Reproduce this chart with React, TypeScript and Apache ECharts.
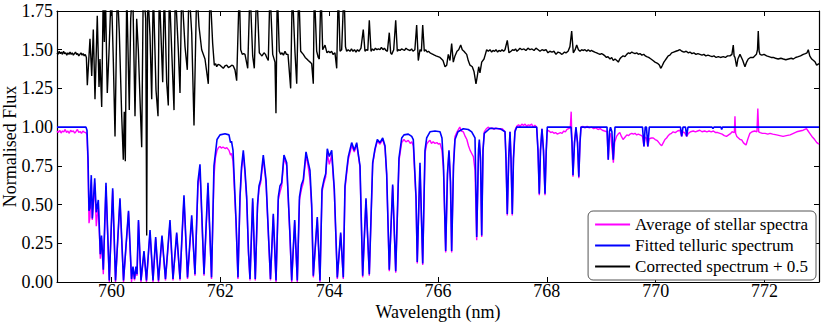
import React, { useEffect, useRef } from "react";
import * as echarts from "echarts";

const FONT = "Liberation Serif";

const seriesNames = ["Average of stellar spectra", "Fitted telluric spectrum", "Corrected spectrum + 0.5"];
const seriesColors = ["#ff00ff", "#0000ff", "#000000"];
const xMin = 759;
const xMax = 773;
const yMin = 0;
const yMax = 1.75;
const yStep = 0.25;

const stellarAverage: [number, number][] = [
[759.000,0.975],[759.025,0.965],[759.050,0.980],[759.075,0.962],[759.100,0.975],[759.125,0.970],[759.150,0.985],[759.175,0.966],[759.200,0.975],[759.225,0.960],[759.250,0.980],[759.275,0.970],[759.300,0.976],[759.325,0.961],[759.350,0.972],[759.375,0.985],[759.400,0.965],[759.425,0.972],[759.450,0.960],[759.475,0.975],[759.500,0.968],[759.530,0.965],
[759.551,0.95],[759.570,0.75],[759.588,0.38],[759.606,0.42],[759.630,0.66],[759.649,0.40],[759.693,0.64],[759.722,0.36],[759.759,0.50],[759.796,0.15],[759.818,0.28],[759.851,0.05],[759.900,0.62],[759.961,0.0],[760.023,0.59],[760.075,0.0],[760.157,0.53],[760.222,0.0],[760.314,0.45],[760.369,0.0],[760.396,0.09],[760.424,0.01],[760.451,0.09],[760.470,0.04],[760.497,0.39],[760.543,0.0],[760.598,0.19],[760.644,0.0],[760.709,0.32],[760.764,0.0],[760.813,0.28],[760.865,0.0],[760.929,0.29],[760.993,0.01],[761.076,0.38],[761.131,0.01],[761.199,0.31],[761.260,0.01],[761.297,0.29],[761.333,0.54],[761.398,0.02],[761.475,0.41],[761.535,0.04],[761.590,0.62],[761.627,0.72],[761.701,0.04],[761.774,0.62],[761.839,0.02],[761.884,0.68],[761.910,0.80],[761.940,0.85],[761.970,0.87],[761.995,0.875],[762.020,0.865],[762.050,0.872],[762.087,0.862],[762.120,0.868],[762.160,0.85],[762.188,0.82],[762.206,0.83],[762.234,0.78],[762.289,0.38],[762.325,0.02],[762.362,0.53],[762.390,0.72],[762.423,0.83],[762.454,0.70],[762.485,0.53],[762.518,0.18],[762.546,0.01],[762.595,0.52],[762.643,0.01],[762.684,0.48],[762.711,0.60],[762.742,0.64],[762.790,0.80],[762.840,0.64],[762.886,0.28],[762.922,0.01],[762.974,0.43],[763.024,0.0],[763.066,0.53],[763.097,0.58],[763.128,0.62],[763.170,0.80],[763.220,0.75],[763.281,0.28],[763.312,0.0],[763.367,0.39],[763.415,0.0],[763.455,0.53],[763.492,0.60],[763.525,0.64],[763.575,0.82],[763.617,0.74],[763.648,0.66],[763.679,0.48],[763.709,0.03],[763.782,0.41],[763.832,0.0],[763.869,0.58],[763.905,0.64],[763.937,0.68],[763.966,0.83],[764.003,0.76],[764.047,0.82],[764.095,0.58],[764.150,0.02],[764.212,0.31],[764.260,0.02],[764.291,0.60],[764.322,0.70],[764.352,0.79],[764.414,0.88],[764.462,0.84],[764.506,0.89],[764.567,0.74],[764.616,0.03],[764.677,0.53],[764.738,0.04],[764.800,0.76],[764.842,0.85],[764.885,0.91],[764.934,0.89],[764.984,0.92],[765.026,0.87],[765.057,0.69],[765.105,0.07],[765.167,0.62],[765.223,0.06],[765.283,0.78],[765.333,0.90],[765.375,0.92],[765.410,0.905],[765.454,0.915],[765.490,0.895],[765.517,0.905],[765.546,0.88],[765.596,0.53],[765.619,0.12],[765.669,0.75],[765.719,0.11],[765.761,0.83],[765.792,0.89],[765.820,0.905],[765.853,0.915],[765.880,0.895],[765.910,0.905],[765.945,0.895],[765.980,0.90],[766.010,0.89],[766.037,0.895],[766.073,0.85],[766.101,0.72],[766.141,0.19],[766.174,0.69],[766.202,0.84],[766.229,0.64],[766.251,0.19],[766.285,0.76],[766.312,0.94],[766.350,0.97],[766.400,1.0],[766.430,0.975],[766.465,0.97],[766.500,0.94],[766.530,0.92],[766.560,0.88],[766.590,0.85],[766.620,0.83],[766.650,0.81],[766.680,0.72],[766.711,0.27],[766.744,0.82],[766.759,0.90],[766.781,0.78],[766.803,0.29],[766.827,0.85],[766.850,0.97],[766.890,0.99],[766.920,1.0],[766.955,0.99],[766.990,0.995],[767.030,0.985],[767.060,0.995],[767.100,0.99],[767.139,0.985],[767.180,0.99],[767.231,0.97],[767.249,0.80],[767.273,0.43],[767.299,0.80],[767.323,0.97],[767.341,0.80],[767.365,0.43],[767.387,0.80],[767.414,0.98],[767.446,1.005],[767.480,1.015],[767.510,1.005],[767.540,1.02],[767.570,1.01],[767.600,1.02],[767.630,1.005],[767.660,1.015],[767.690,1.01],[767.720,1.02],[767.750,1.0],[767.780,1.012],[767.813,1.0],[767.837,0.85],[767.861,0.56],[767.883,0.85],[767.910,0.99],[767.938,0.85],[767.966,0.56],[767.989,0.85],[768.008,0.98],[768.040,0.975],[768.070,0.965],[768.100,0.97],[768.130,0.96],[768.160,0.965],[768.190,0.955],[768.220,0.96],[768.250,0.965],[768.280,0.96],[768.310,0.975],[768.340,0.97],[768.370,0.985],[768.400,0.99],[768.430,0.995],[768.447,1.10],[768.455,0.99],[768.462,0.90],[768.480,0.68],[768.508,0.90],[768.535,0.99],[768.563,0.90],[768.587,0.67],[768.609,0.90],[768.627,1.0],[768.660,1.005],[768.700,0.995],[768.740,1.005],[768.780,0.995],[768.820,1.0],[768.860,0.99],[768.900,0.995],[768.940,0.985],[768.980,0.99],[769.020,0.98],[769.060,0.975],[769.105,0.97],[769.128,0.79],[769.150,0.95],[769.169,0.96],[769.198,0.86],[769.222,0.77],[769.245,0.90],[769.280,0.94],[769.310,0.955],[769.340,0.965],[769.370,0.94],[769.400,0.92],[769.435,0.935],[769.470,0.95],[769.500,0.945],[769.530,0.955],[769.560,0.96],[769.590,0.955],[769.620,0.96],[769.650,0.95],[769.680,0.955],[769.710,0.95],[769.740,0.945],[769.757,0.94],[769.784,0.875],[769.807,0.935],[769.830,0.93],[769.855,0.875],[769.882,0.925],[769.920,0.93],[769.955,0.93],[769.990,0.92],[770.020,0.915],[770.047,0.905],[770.080,0.89],[770.110,0.88],[770.140,0.90],[770.170,0.92],[770.200,0.93],[770.230,0.945],[770.260,0.955],[770.290,0.96],[770.320,0.97],[770.360,0.965],[770.400,0.975],[770.445,0.98],[770.477,0.94],[770.501,0.97],[770.530,0.965],[770.569,0.94],[770.600,0.96],[770.640,0.97],[770.690,0.975],[770.730,0.97],[770.770,0.975],[770.810,0.98],[770.850,0.97],[770.900,0.975],[770.940,0.97],[770.980,0.975],[771.020,0.97],[771.060,0.975],[771.100,0.965],[771.140,0.965],[771.180,0.96],[771.220,0.955],[771.260,0.945],[771.300,0.94],[771.340,0.95],[771.380,0.96],[771.400,0.97],[771.445,0.965],[771.456,1.07],[771.468,0.96],[771.490,0.94],[771.520,0.93],[771.550,0.92],[771.580,0.918],[771.610,0.90],[771.640,0.89],[771.660,0.885],[771.690,0.92],[771.730,0.96],[771.770,0.97],[771.820,0.975],[771.860,0.97],[771.876,1.12],[771.892,0.97],[771.920,0.965],[771.960,0.96],[772.010,0.96],[772.060,0.955],[772.100,0.96],[772.150,0.955],[772.220,0.95],[772.280,0.945],[772.340,0.94],[772.400,0.945],[772.470,0.95],[772.530,0.96],[772.590,0.97],[772.650,0.975],[772.710,0.98],[772.770,0.99],[772.800,0.975],[772.830,0.96],[772.870,0.94],[772.920,0.92],[772.960,0.90],[773.000,0.89]
];

const telluricFit: [number, number][] = [
[759.000,1.0],[759.533,1.0],[759.551,0.98],[759.570,0.80],[759.588,0.46],[759.606,0.48],[759.630,0.69],[759.649,0.41],[759.693,0.67],[759.722,0.45],[759.759,0.53],[759.796,0.18],[759.818,0.30],[759.851,0.08],[759.900,0.64],[759.961,0.01],[760.023,0.605],[760.075,0.01],[760.157,0.54],[760.222,0.01],[760.314,0.46],[760.369,0.02],[760.396,0.10],[760.424,0.02],[760.451,0.10],[760.470,0.05],[760.497,0.40],[760.543,0.01],[760.598,0.20],[760.644,0.01],[760.709,0.335],[760.764,0.01],[760.813,0.29],[760.865,0.01],[760.929,0.30],[760.993,0.02],[761.076,0.40],[761.131,0.02],[761.199,0.32],[761.260,0.02],[761.297,0.30],[761.333,0.56],[761.398,0.03],[761.475,0.43],[761.535,0.05],[761.590,0.65],[761.627,0.76],[761.701,0.05],[761.774,0.64],[761.839,0.03],[761.884,0.75],[761.940,0.92],[761.995,0.95],[762.087,0.957],[762.160,0.95],[762.188,0.90],[762.206,0.91],[762.234,0.85],[762.289,0.40],[762.325,0.03],[762.362,0.55],[762.390,0.74],[762.423,0.85],[762.454,0.72],[762.485,0.55],[762.518,0.20],[762.546,0.02],[762.595,0.54],[762.643,0.02],[762.684,0.50],[762.711,0.62],[762.742,0.66],[762.790,0.82],[762.840,0.66],[762.886,0.30],[762.922,0.02],[762.974,0.44],[763.024,0.01],[763.066,0.55],[763.097,0.62],[763.128,0.64],[763.170,0.82],[763.220,0.77],[763.281,0.30],[763.312,0.01],[763.367,0.40],[763.415,0.01],[763.455,0.55],[763.492,0.63],[763.525,0.66],[763.575,0.84],[763.617,0.77],[763.648,0.72],[763.679,0.50],[763.709,0.04],[763.782,0.42],[763.832,0.01],[763.869,0.60],[763.905,0.66],[763.937,0.70],[763.966,0.86],[764.003,0.81],[764.047,0.85],[764.095,0.60],[764.150,0.03],[764.212,0.32],[764.260,0.03],[764.291,0.62],[764.322,0.72],[764.352,0.81],[764.414,0.90],[764.462,0.85],[764.506,0.90],[764.567,0.75],[764.616,0.04],[764.677,0.54],[764.738,0.05],[764.800,0.77],[764.842,0.86],[764.885,0.92],[764.934,0.90],[764.984,0.93],[765.026,0.88],[765.057,0.70],[765.105,0.08],[765.167,0.63],[765.223,0.07],[765.283,0.80],[765.333,0.93],[765.375,0.95],[765.454,0.955],[765.517,0.94],[765.546,0.92],[765.596,0.55],[765.619,0.13],[765.669,0.77],[765.719,0.12],[765.761,0.85],[765.792,0.93],[765.853,0.97],[765.945,0.975],[766.037,0.97],[766.073,0.93],[766.101,0.75],[766.141,0.20],[766.174,0.70],[766.202,0.85],[766.229,0.65],[766.251,0.20],[766.285,0.75],[766.312,0.92],[766.367,0.97],[766.465,0.99],[766.556,0.985],[766.619,0.97],[766.680,0.93],[766.711,0.29],[766.744,0.85],[766.759,0.92],[766.781,0.80],[766.803,0.30],[766.827,0.85],[766.850,0.96],[766.955,0.993],[767.139,0.99],[767.231,0.97],[767.249,0.80],[767.273,0.44],[767.299,0.80],[767.323,0.97],[767.341,0.80],[767.365,0.44],[767.387,0.80],[767.414,0.97],[767.446,1.0],[767.813,1.0],[767.837,0.85],[767.861,0.57],[767.883,0.85],[767.910,0.99],[767.938,0.85],[767.966,0.57],[767.989,0.85],[768.008,1.0],[768.443,1.0],[768.462,0.90],[768.480,0.69],[768.508,0.90],[768.535,1.0],[768.563,0.90],[768.587,0.68],[768.609,0.90],[768.627,1.0],[769.105,1.0],[769.128,0.79],[769.150,0.97],[769.169,1.0],[769.195,0.97],[769.220,0.79],[769.252,1.0],[769.757,1.0],[769.784,0.875],[769.807,1.0],[769.830,1.0],[769.855,0.875],[769.882,1.0],[770.455,1.0],[770.477,0.94],[770.501,1.0],[770.547,1.0],[770.569,0.94],[770.593,1.0],[771.034,1.0],[771.052,0.99],[771.070,1.0],[771.199,1.0],[771.212,0.985],[771.226,1.0],[773.000,1.0]
];

const correctedSpectrum: [number, number][] = [
[759.000,1.48],[759.020,1.47],[759.040,1.49],[759.060,1.475],[759.080,1.485],[759.100,1.47],[759.120,1.49],[759.140,1.475],[759.160,1.48],[759.180,1.465],[759.200,1.48],[759.220,1.47],[759.240,1.485],[759.260,1.47],[759.280,1.48],[759.300,1.465],[759.320,1.475],[759.340,1.485],[759.360,1.47],[759.380,1.475],[759.400,1.46],[759.420,1.47],[759.440,1.48],[759.460,1.465],[759.480,1.475],[759.500,1.46],[759.520,1.47],[759.540,1.45],
[759.557,1.27],[759.606,1.57],[759.638,1.33],[759.667,1.63],[759.698,1.18],[759.740,1.72],[759.772,1.26],[759.790,1.44],[759.821,1.13],[759.851,1.9],[759.870,1.55],[759.887,1.9],[759.924,1.22],[759.955,1.48],[759.998,1.9],[760.034,1.44],[760.066,0.94],[760.108,1.9],[760.145,1.61],[760.189,1.07],[760.218,0.79],[760.236,1.1],[760.255,0.78],[760.281,1.9],[760.328,1.11],[760.354,1.70],[760.391,1.9],[760.433,1.07],[760.464,1.70],[760.494,1.50],[760.525,1.18],[760.556,0.87],[760.585,1.9],[760.630,1.70],[760.648,0.30],[760.666,1.9],[760.709,1.59],[760.740,1.18],[760.769,1.9],[760.819,1.24],[760.856,1.07],[760.879,1.9],[760.942,1.29],[760.971,1.9],[761.015,1.29],[761.045,1.14],[761.063,1.9],[761.107,1.50],[761.150,1.11],[761.173,1.9],[761.229,1.50],[761.260,1.22],[761.291,1.9],[761.352,1.52],[761.394,1.37],[761.425,1.9],[761.475,1.61],[761.517,1.01],[761.567,1.9],[761.609,1.65],[761.658,1.50],[761.719,1.44],[761.780,1.28],[761.811,1.9],[761.860,1.54],[761.890,1.40],[761.915,1.41],[761.934,1.39],[761.960,1.405],[761.995,1.40],[762.025,1.39],[762.055,1.38],[762.085,1.395],[762.118,1.40],[762.150,1.385],[762.178,1.39],[762.210,1.40],[762.239,1.395],[762.270,1.37],[762.301,1.30],[762.349,1.9],[762.375,1.50],[762.404,1.47],[762.430,1.475],[762.454,1.47],[762.504,1.38],[762.546,1.9],[762.595,1.46],[762.625,1.38],[762.669,1.9],[762.717,1.48],[762.740,1.47],[762.766,1.46],[762.803,1.48],[762.830,1.47],[762.853,1.45],[762.882,1.43],[762.913,1.9],[762.963,1.47],[763.005,1.42],[763.023,1.09],[763.047,1.9],[763.084,1.49],[763.110,1.47],[763.134,1.48],[763.160,1.465],[763.189,1.49],[763.215,1.47],[763.244,1.47],[763.293,1.25],[763.323,1.9],[763.373,1.48],[763.404,1.28],[763.441,1.9],[763.477,1.49],[763.500,1.48],[763.525,1.47],[763.560,1.45],[763.590,1.44],[763.617,1.43],[763.650,1.42],[763.679,1.41],[763.709,1.28],[763.727,1.9],[763.771,1.49],[763.800,1.45],[763.819,1.44],[763.850,1.9],[763.881,1.50],[763.924,1.53],[763.960,1.48],[763.990,1.49],[764.016,1.48],[764.045,1.49],[764.071,1.47],[764.107,1.48],[764.139,1.38],[764.168,1.9],[764.200,1.49],[764.230,1.50],[764.273,1.9],[764.300,1.52],[764.322,1.49],[764.350,1.50],[764.383,1.49],[764.410,1.505],[764.438,1.49],[764.465,1.50],[764.493,1.485],[764.520,1.50],[764.548,1.49],[764.585,1.51],[764.627,1.63],[764.658,1.49],[764.680,1.50],[764.710,1.495],[764.738,1.69],[764.769,1.49],[764.795,1.505],[764.824,1.495],[764.850,1.51],[764.879,1.50],[764.905,1.505],[764.934,1.50],[764.960,1.515],[764.989,1.50],[765.015,1.51],[765.044,1.495],[765.070,1.49],[765.105,1.61],[765.130,1.48],[765.149,1.47],[765.186,1.50],[765.223,1.69],[765.252,1.49],[765.275,1.50],[765.302,1.495],[765.330,1.505],[765.357,1.50],[765.385,1.495],[765.412,1.51],[765.445,1.50],[765.485,1.495],[765.515,1.505],[765.540,1.49],[765.575,1.50],[765.608,1.66],[765.638,1.43],[765.669,1.50],[765.695,1.49],[765.719,1.66],[765.748,1.49],[765.775,1.50],[765.798,1.485],[765.825,1.49],[765.853,1.48],[765.880,1.475],[765.908,1.47],[765.935,1.465],[765.963,1.46],[766.000,1.455],[766.037,1.45],[766.065,1.44],[766.092,1.43],[766.129,1.39],[766.160,1.40],[766.189,1.47],[766.220,1.43],[766.251,1.54],[766.281,1.42],[766.312,1.46],[766.349,1.49],[766.380,1.50],[766.417,1.53],[766.446,1.50],[766.477,1.49],[766.500,1.48],[766.527,1.47],[766.556,1.43],[766.588,1.40],[766.630,1.39],[766.661,1.36],[766.698,1.28],[766.722,1.33],[766.748,1.39],[766.771,1.35],[766.803,1.42],[766.845,1.44],[766.870,1.47],[766.894,1.50],[766.925,1.49],[766.955,1.50],[766.985,1.485],[767.010,1.495],[767.040,1.49],[767.065,1.50],[767.095,1.485],[767.120,1.495],[767.150,1.49],[767.176,1.50],[767.205,1.49],[767.231,1.50],[767.273,1.56],[767.304,1.48],[767.341,1.49],[767.370,1.50],[767.396,1.495],[767.425,1.505],[767.451,1.49],[767.480,1.50],[767.506,1.51],[767.540,1.50],[767.580,1.505],[767.615,1.495],[767.653,1.51],[767.690,1.50],[767.727,1.505],[767.765,1.495],[767.800,1.51],[767.840,1.50],[767.874,1.49],[767.910,1.50],[767.947,1.495],[767.985,1.50],[768.020,1.48],[768.055,1.49],[768.094,1.485],[768.130,1.49],[768.168,1.47],[768.205,1.485],[768.241,1.48],[768.270,1.47],[768.296,1.475],[768.325,1.485],[768.351,1.48],[768.390,1.49],[768.424,1.52],[768.456,1.62],[768.486,1.48],[768.520,1.50],[768.548,1.53],[768.580,1.50],[768.609,1.49],[768.640,1.50],[768.664,1.495],[768.700,1.50],[768.732,1.49],[768.760,1.50],[768.792,1.49],[768.820,1.495],[768.847,1.49],[768.880,1.485],[768.915,1.48],[768.945,1.475],[768.976,1.47],[769.005,1.475],[769.031,1.47],[769.068,1.46],[769.095,1.45],[769.123,1.455],[769.160,1.44],[769.191,1.45],[769.220,1.43],[769.252,1.44],[769.285,1.43],[769.313,1.42],[769.340,1.44],[769.362,1.45],[769.400,1.46],[769.435,1.455],[769.467,1.47],[769.500,1.48],[769.530,1.475],[769.560,1.485],[769.588,1.48],[769.620,1.475],[769.650,1.48],[769.680,1.47],[769.711,1.475],[769.745,1.465],[769.780,1.47],[769.810,1.46],[769.834,1.455],[769.870,1.45],[769.913,1.44],[769.950,1.43],[769.987,1.42],[770.015,1.415],[770.042,1.41],[770.070,1.40],[770.091,1.38],[770.110,1.39],[770.124,1.40],[770.150,1.42],[770.170,1.43],[770.200,1.445],[770.230,1.46],[770.260,1.465],[770.293,1.48],[770.330,1.485],[770.370,1.49],[770.410,1.495],[770.445,1.50],[770.480,1.49],[770.520,1.485],[770.560,1.49],[770.600,1.48],[770.629,1.485],[770.665,1.475],[770.700,1.48],[770.740,1.47],[770.775,1.475],[770.813,1.47],[770.850,1.465],[770.885,1.47],[770.920,1.46],[770.960,1.465],[770.997,1.46],[771.035,1.455],[771.070,1.46],[771.110,1.45],[771.150,1.455],[771.190,1.45],[771.241,1.455],[771.280,1.45],[771.320,1.46],[771.364,1.46],[771.400,1.47],[771.425,1.53],[771.440,1.46],[771.456,1.45],[771.487,1.39],[771.510,1.44],[771.548,1.47],[771.575,1.45],[771.600,1.43],[771.620,1.41],[771.640,1.39],[771.670,1.42],[771.700,1.44],[771.740,1.45],[771.792,1.45],[771.850,1.47],[771.870,1.50],[771.884,1.62],[771.900,1.49],[771.916,1.47],[771.950,1.465],[771.990,1.47],[772.038,1.46],[772.080,1.455],[772.120,1.45],[772.160,1.45],[772.200,1.445],[772.250,1.44],[772.300,1.445],[772.344,1.44],[772.390,1.435],[772.440,1.44],[772.490,1.445],[772.528,1.44],[772.570,1.45],[772.620,1.455],[772.660,1.46],[772.711,1.47],[772.750,1.475],[772.780,1.48],[772.803,1.50],[772.830,1.46],[772.866,1.44],[772.900,1.43],[772.930,1.42],[772.957,1.40],[773.000,1.41]
];

const seriesData = [stellarAverage, telluricFit, correctedSpectrum];
const lineWidths = [1.4, 1.6, 1.4];

export default function App() {
  const ref = useRef<HTMLDivElement>(null);
  useEffect(() => {
    document.body.style.margin = "0";
    const chart = echarts.init(ref.current!, null, { renderer: "svg" });
    const axisLine = { show: true, onZero: false, lineStyle: { color: "#000", width: 1.2 } };
    const axisTick = { show: true, inside: true, length: 5, lineStyle: { color: "#000", width: 1 } };
    const labelStyle = { color: "#000", fontFamily: FONT, fontSize: 18 };
    chart.setOption({
      animation: false,
      backgroundColor: "#fff",
      textStyle: { fontFamily: FONT },
      grid: { left: 57, right: 11, top: 11, bottom: 50, containLabel: false, outerBoundsMode: "none" },
      legend: {
        data: seriesNames,
        orient: "vertical",
        right: 14,
        bottom: 52,
        backgroundColor: "#fff",
        borderColor: "#555",
        borderWidth: 1,
        borderRadius: 5,
        padding: [5, 8, 5, 7],
        itemGap: 4,
        itemWidth: 35,
        itemHeight: 2,
        icon: "rect",
        textStyle: { color: "#000", fontFamily: FONT, fontSize: 17 },
      },
      xAxis: [
        {
          type: "value", min: xMin, max: xMax, splitNumber: 7, position: "bottom",
          axisLine, axisTick,
          axisLabel: { ...labelStyle, margin: 0, lineHeight: 18, showMinLabel: false, showMaxLabel: false },
          splitLine: { show: false },
          name: "Wavelength (nm)", nameLocation: "middle", nameGap: 21, nameMoveOverlap: false,
          nameTextStyle: { ...labelStyle, lineHeight: 18 },
        },
        {
          type: "value", min: xMin, max: xMax, splitNumber: 7, position: "top",
          axisLine, axisTick, axisLabel: { show: false }, splitLine: { show: false },
        },
      ],
      yAxis: [
        {
          type: "value", min: yMin, max: yMax, interval: yStep, position: "left",
          axisLine, axisTick,
          axisLabel: { ...labelStyle, margin: 4, formatter: (v: number) => v.toFixed(2) },
          splitLine: { show: false },
          name: "Normalised Flux", nameLocation: "middle", nameGap: 38, nameMoveOverlap: false,
          nameTextStyle: { ...labelStyle },
        },
        {
          type: "value", min: yMin, max: yMax, interval: yStep, position: "right",
          axisLine, axisTick, axisLabel: { show: false }, splitLine: { show: false },
        },
      ],
      series: seriesNames.map((name, i) => ({
        type: "line",
        name,
        data: seriesData[i],
        xAxisIndex: 0,
        yAxisIndex: 0,
        showSymbol: false,
        symbol: "none",
        clip: true,
        color: seriesColors[i],
        itemStyle: { color: seriesColors[i] },
        lineStyle: { color: seriesColors[i], width: lineWidths[i] },
        z: 2 + i,
      })),
    });
    return () => chart.dispose();
  }, []);
  return <div ref={ref} style={{ width: 830, height: 332 }} />;
}
